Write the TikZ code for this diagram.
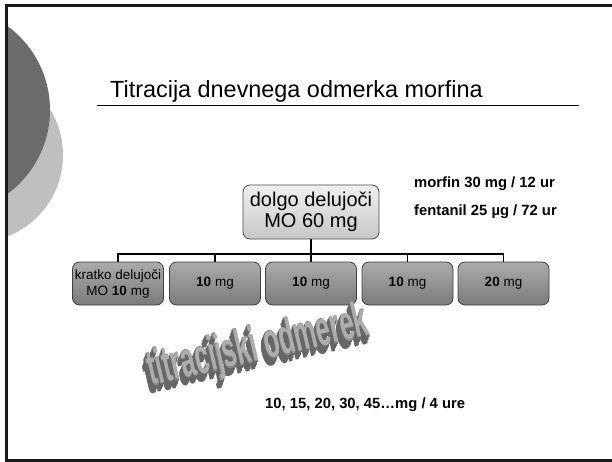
\documentclass[tikz,border=0pt]{standalone}
\usepackage{fontspec}
\setmainfont{Liberation Sans}
\usepackage{graphicx}
\usetikzlibrary{calc}
\begin{document}
\begin{tikzpicture}[x=1pt,y=1pt,
  topbox/.style={draw=black!70, line width=0.8pt, rounded corners=7pt, top color=black!6, bottom color=black!22,
     minimum width=136pt, minimum height=54pt, align=center, inner sep=1pt,
     font=\fontsize{20}{21}\selectfont},
  lowbox/.style={draw=black!75, line width=0.8pt, rounded corners=7pt, top color=black!33, bottom color=black!52,
     minimum width=91pt, minimum height=43pt, align=center, inner sep=1pt,
     font=\fontsize{13.5}{16}\selectfont},
  note/.style={anchor=base west, inner sep=0pt, font=\bfseries\fontsize{14.8}{17}\selectfont},
  conn/.style={line width=1.2pt, black},
  wa/.style={rotate=13, inner sep=0pt, font=\bfseries\fontsize{52}{56}\selectfont}]
\useasboundingbox (0,0) rectangle (612,-462);
\fill[white] (0,0) rectangle (612,-462);
% decorative circles
\begin{scope}
  \clip (7,-6) rectangle (612,-460);
  \fill[black!25] (-24.5,-155) circle (87.5);
  \fill[black!58] (-54,-110) circle (104);
\end{scope}
% frame
\draw[line width=2.2pt, black!90] (612,-5.5) -- (6.5,-5.5) -- (6.5,-460.5) -- (612,-460.5);
% title
\node[anchor=base west, inner sep=0pt, font=\fontsize{23.4}{26}\selectfont] (title) at (110,-98) {Titracija dnevnega odmerka morfina};
\draw[line width=1pt] (97,-106) coordinate (ulA) -- (579,-106) coordinate (ulB);
% boxes
\node[topbox] (top) at (311,-212) {dolgo delujoči\\MO 60 mg};
\node[lowbox] (b1) at (118,-283.5) {kratko delujoči\\MO \textbf{10} mg};
\node[lowbox] (b2) at (215,-283.5) {\textbf{10} mg};
\node[lowbox] (b3) at (311,-283.5) {\textbf{10} mg};
\node[lowbox] (b4) at (407.5,-283.5) {\textbf{10} mg};
\node[lowbox] (b5) at (503.5,-283.5) {\textbf{20} mg};
\coordinate (j) at (311,-254);
\draw[conn] (top.south) -- (j);
\draw[conn] (b1.north) |- (j) -| (b5.north);
\draw[conn] (b2.north) -- (b2.north |- j);
\draw[conn] (b3.north) -- (b3.north |- j);
\draw[conn] (b4.north) -- (b4.north |- j);
% notes
\node[note] (n1) at (414,-188) {morfin 30 mg / 12 ur};
\node[note] (n2) at (414,-215) {fentanil 25 µg / 72 ur};
\node[note] (n3) at (265,-408) {10, 15, 20, 30, 45…mg / 4 ure};
% word art
\foreach \k in {9,...,1}{
  \node[wa, text=black!60] (wa\k) at ($(258,-348)+(-0.35*\k,-0.9*\k)$) {\scalebox{0.49}[1]{titracijski odmerek}};
}
\node[wa, text=black!45] (wa0) at (258,-348) {\scalebox{0.49}[1]{titracijski odmerek}};
\node[wa, text=black!32] (wa) at (258.3,-347.4) {\scalebox{0.49}[0.93]{titracijski odmerek}};
\end{tikzpicture}
\end{document}
